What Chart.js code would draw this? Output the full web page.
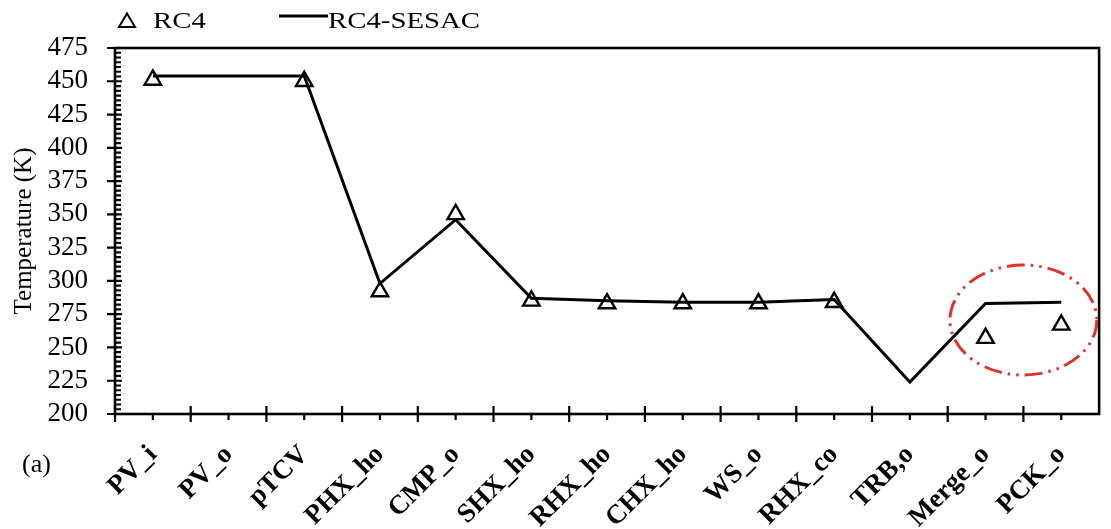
<!DOCTYPE html>
<html>
<head>
<meta charset="utf-8">
<script src="https://cdn.jsdelivr.net/npm/chart.js@4.4.1/dist/chart.umd.min.js"></script>
<style>
  html, body { margin: 0; background: #fff; }
  #wrap { width: 1111px; height: 529px; }
</style>
</head>
<body>
<div id="wrap"><canvas id="tempChart"></canvas></div>
<script>
const categories = ["PV_i", "PV_o", "pTCV", "PHX_ho", "CMP_o", "SHX_ho", "RHX_ho",
  "CHX_ho", "WS_o", "RHX_co", "TRB,o", "Merge_o", "PCK_o"];

// triangles (RC4) - no marker at PV_o and TRB,o
const rc4 = [451, null, 450, 292, 350, 285, 283, 283, 283, 284, null, 257, 267];
// solid line (RC4-SESAC)
const rc4Sesac = [454, 454, 454, 298, 346, 287, 285, 284, 284, 286, 224, 283, 284];

const yTickValues = [200, 225, 250, 275, 300, 325, 350, 375, 400, 425, 450, 475];

// red dash-dot ring around Merge_o / PCK_o (category index, value, half sizes)
const ring = { index: 11.5, value: 270.6, halfCats: 0.97, halfValue: 41.3 };

const FONT = "'Liberation Serif', 'Times New Roman', serif";

// axis frame, tick marks, ring, legend and panel tag
const frameAndExtras = {
  id: "frameAndExtras",
  afterDatasetsDraw(chart) {
    const { ctx, chartArea: a, scales } = chart;
    const x = scales.x, y = scales.y;
    ctx.save();
    ctx.strokeStyle = "#000";
    ctx.lineWidth = 2.6;
    ctx.strokeRect(a.left, a.top, a.right - a.left, a.bottom - a.top);

    // y ticks
    ctx.lineWidth = 2.2;
    ctx.beginPath();
    yTickValues.forEach((v) => {
      const py = y.getPixelForValue(v);
      ctx.moveTo(a.left - 8, py);
      ctx.lineTo(a.left + 7, py);
    });
    const minorStep = 25 / 7;
    for (let k = 0; k < yTickValues.length - 1; k++) {
      for (let j = 1; j < 7; j++) {
        const py = y.getPixelForValue(yTickValues[k] + j * minorStep);
        ctx.moveTo(a.left, py);
        ctx.lineTo(a.left + 6, py);
      }
    }
    // x ticks: long ones between categories, short ones at categories
    const half = (x.getPixelForValue(1) - x.getPixelForValue(0)) / 2;
    categories.forEach((c, i) => {
      const px = x.getPixelForValue(i);
      ctx.moveTo(px - half, a.bottom - 8);
      ctx.lineTo(px - half, a.bottom + 8);
      ctx.moveTo(px, a.bottom);
      ctx.lineTo(px, a.bottom + 6);
    });
    ctx.stroke();

    // ring
    const cx = x.getPixelForValue(ring.index);
    const cy = y.getPixelForValue(ring.value);
    const rx = ring.halfCats * half * 2;
    const ry = Math.abs(y.getPixelForValue(ring.value + ring.halfValue) - cy);
    ctx.strokeStyle = "#e0342b";
    ctx.lineWidth = 3;
    ctx.setLineDash([18, 6, 2.5, 6, 2.5, 6]);
    ctx.beginPath();
    ctx.ellipse(cx, cy, rx, ry, 0, 0, Math.PI * 2);
    ctx.stroke();
    ctx.setLineDash([]);

    // legend
    ctx.strokeStyle = "#000";
    ctx.fillStyle = "#000";
    ctx.lineWidth = 2;
    ctx.beginPath();
    ctx.moveTo(127, 13.5);
    ctx.lineTo(135, 27);
    ctx.lineTo(119, 27);
    ctx.closePath();
    ctx.stroke();
    ctx.lineWidth = 3;
    ctx.beginPath();
    ctx.moveTo(279, 16);
    ctx.lineTo(328, 16);
    ctx.stroke();
    ctx.font = "24px " + FONT;
    ctx.textBaseline = "alphabetic";
    ctx.textAlign = "left";
    ctx.save();
    ctx.translate(153, 28);
    ctx.scale(1.2, 1);
    ctx.fillText("RC4", 0, 0);
    ctx.restore();
    ctx.save();
    ctx.translate(328, 28);
    ctx.scale(1.2, 1);
    ctx.fillText("RC4-SESAC", 0, 0);
    ctx.restore();

    // panel tag
    ctx.font = "26px " + FONT;
    ctx.fillText("(a)", 22, 472);
    ctx.restore();
  }
};

new Chart(document.getElementById("tempChart"), {
  type: "line",
  data: {
    labels: categories,
    datasets: [
      {
        label: "RC4",
        data: rc4,
        showLine: false,
        pointStyle: "triangle",
        pointRadius: 9.5,
        pointHoverRadius: 9.5,
        pointBorderWidth: 2.4,
        pointBorderColor: "#000",
        pointBackgroundColor: "rgba(255,255,255,0)"
      },
      {
        label: "RC4-SESAC",
        data: rc4Sesac,
        borderColor: "#000",
        borderWidth: 3,
        pointRadius: 0,
        tension: 0,
        fill: false
      }
    ]
  },
  options: {
    responsive: true,
    maintainAspectRatio: false,
    animation: false,
    layout: { padding: { top: 48, right: 4, left: 0, bottom: 0 } },
    plugins: {
      legend: { display: false },
      tooltip: { enabled: false }
    },
    scales: {
      x: {
        offset: true,
        grid: { display: false, drawTicks: false },
        border: { display: false },
        afterFit(s) { s.height = 115; },
        ticks: {
          color: "#000",
          font: { family: FONT, size: 27, weight: "bold" },
          minRotation: 45,
          maxRotation: 45,
          padding: 25,
          autoSkip: false
        }
      },
      y: {
        min: 200,
        max: 475,
        grid: { display: false, drawTicks: false },
        border: { display: false },
        afterFit(s) { s.width = 115; },
        afterBuildTicks(s) { s.ticks = yTickValues.map((v) => ({ value: v })); },
        ticks: {
          color: "#000",
          font: { family: FONT, size: 27 },
          padding: 27,
          autoSkip: false
        },
        title: {
          display: true,
          text: "Temperature (K)",
          color: "#000",
          font: { family: FONT, size: 25 },
          padding: { top: 9, bottom: 0 }
        }
      }
    }
  },
  plugins: [frameAndExtras]
});
</script>
</body>
</html>
